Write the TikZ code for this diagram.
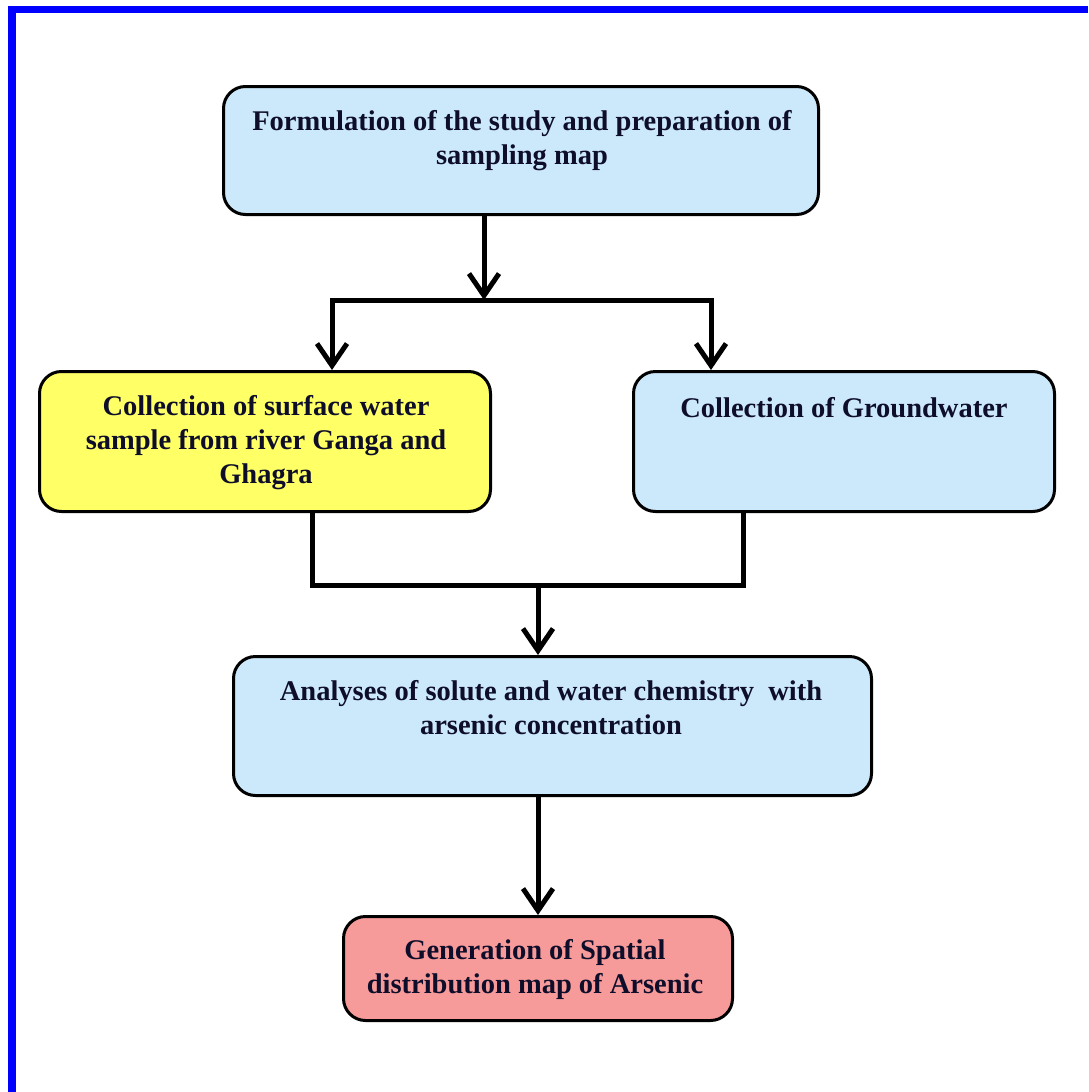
\documentclass[tikz,border=0pt]{standalone}
\usepackage{fontspec}
\setmainfont{Liberation Serif}
\usetikzlibrary{positioning}
\usetikzlibrary{arrows.meta}

\definecolor{boxblue}{HTML}{CCE9FB}
\definecolor{boxyellow}{HTML}{FFFF66}
\definecolor{boxpink}{HTML}{F79A9A}
\definecolor{inkblue}{HTML}{0E0E2A}

\tikzset{
  box/.style={draw=black, line width=3pt, rounded corners=22pt},
  txt/.style={align=center, inner sep=0pt, text=inkblue,
    font=\bfseries\fontsize{28.5}{34}\selectfont},
  flow/.style={line width=5pt, -{Straight Barb[length=22pt,width=30pt]}},
  link/.style={line width=5pt},
}

\begin{document}
\begin{tikzpicture}[x=1pt,y=-1pt]
\useasboundingbox (0,0) rectangle (1088,1092);
%frame
\fill[blue] (8,6) rectangle (1088,13);
\fill[blue] (8,6) rectangle (16,1092);
%boxes
\node[box, fill=boxblue, minimum width=595pt, minimum height=128pt] (form) at (521,150.5) {};
\node[box, fill=boxyellow, minimum width=451pt, minimum height=140pt] (surf) at (265,441.5) {};
\node[box, fill=boxblue, minimum width=421pt, minimum height=140pt] (ground) at (844,441.5) {};
\node[box, fill=boxblue, minimum width=638pt, minimum height=139pt] (anal) at (552.5,726) {};
\node[box, fill=boxpink, minimum width=389pt, minimum height=104pt] (gen) at (538,968.5) {};
%texts (base = last line)
\node[txt, anchor=base] (formtxt) at (522,164) {Formulation of the study and preparation of\\sampling map};
\node[txt, anchor=base] (surftxt) at (266,483) {Collection of surface water\\sample from river Ganga and\\Ghagra};
\node[txt, anchor=base] (groundtxt) at (844,417) {Collection of Groundwater};
\node[txt, anchor=base] (analtxt) at (551,734) {Analyses of solute and water chemistry \ with\\arsenic concentration};
\node[txt, anchor=base] (gentxt) at (535,993) {Generation of Spatial\\distribution map of Arsenic};
%split
\coordinate (split) at (484,300);
\coordinate (lsplit) at (332,300);
\coordinate (rsplit) at (711,300);
\draw[flow] (form.south -| split) -- (split);
\draw[flow] (split) -| (surf.north -| lsplit);
\draw[flow] (split) -| (ground.north -| rsplit);
%merge
\coordinate (merge) at (538,585);
\coordinate (lmerge) at (312,585);
\coordinate (rmerge) at (743,585);
\draw[link] (surf.south -| lmerge) -- (lmerge) -- (rmerge) -- (ground.south -| rmerge);
\draw[flow] (merge) -- (anal.north -| merge);
\draw[flow] (anal.south -| merge) -- (gen.north -| merge);
\end{tikzpicture}
\end{document}
